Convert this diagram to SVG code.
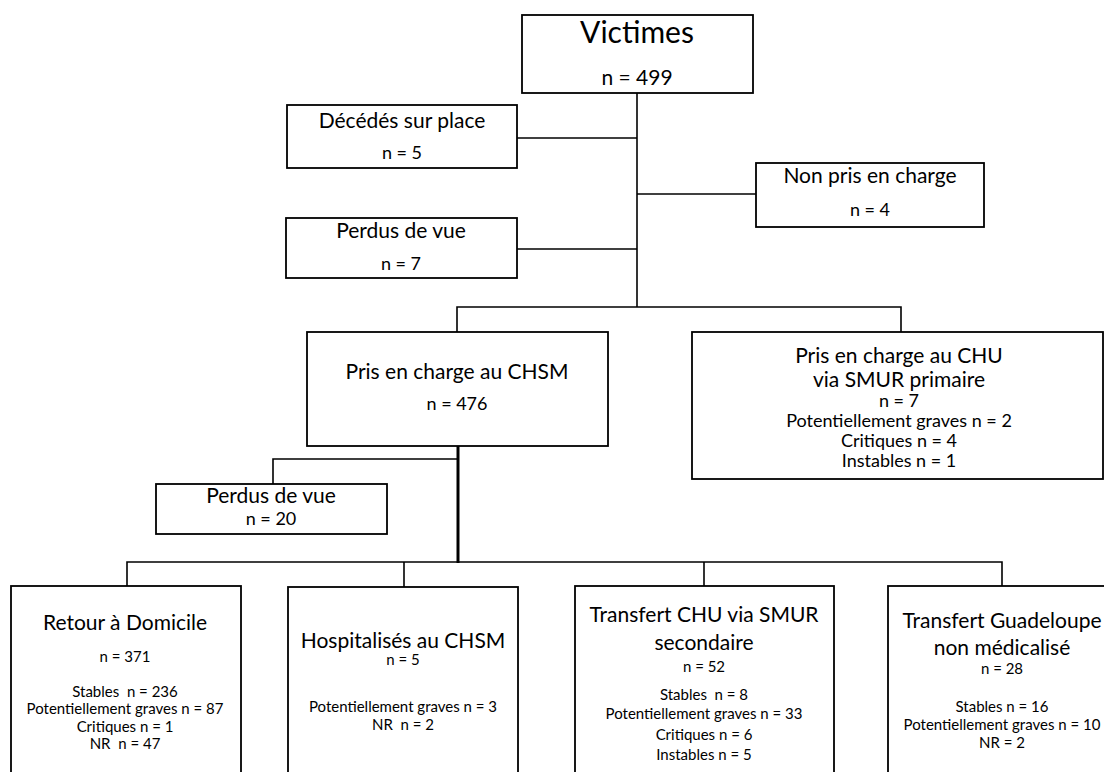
<svg xmlns="http://www.w3.org/2000/svg" width="1104" height="772" viewBox="0 0 1104 772">
<style>
rect.box{fill:#fff;stroke:#000;stroke-width:1.8}
.c{fill:none;stroke:#000;stroke-width:1.6}
.thick{stroke-width:3}
text{font-family:Lato,"Open Sans","Liberation Sans",sans-serif;fill:#000;text-anchor:middle;white-space:pre}
.big{font-size:30px}
.t{font-size:21px}
.n{font-size:18px}
.m{font-size:18px}
.s{font-size:15px}
</style>
<rect width="1104" height="772" fill="#fff"/>
<g id="connectors">
<path class="c" d="M637 93V307"/>
<path class="c" d="M517 138H637"/>
<path class="c" d="M517 249H637"/>
<path class="c" d="M637 194H756"/>
<path class="c" d="M457 332V307H901V332"/>
<path class="c thick" d="M458 446V563"/>
<path class="c" d="M273 484V459H458"/>
<path class="c" d="M127 586V562H1002V586"/>
<path class="c" d="M404 562V587"/>
<path class="c" d="M704 562V586"/>
</g>
<g id="victimes">
<rect class="box" x="522" y="15" width="231" height="78"/>
<text class="big" x="637" y="43">Victimes</text>
<text class="n" x="637" y="85" style="font-size:21px">n = 499</text>
</g>
<g id="decedes">
<rect class="box" x="287" y="105" width="230" height="63"/>
<text class="t" x="402" y="128">Décédés sur place</text>
<text class="n" x="402" y="159">n = 5</text>
</g>
<g id="perdus7">
<rect class="box" x="286" y="218" width="231" height="60"/>
<text class="t" x="401" y="238">Perdus de vue</text>
<text class="n" x="401" y="270">n = 7</text>
</g>
<g id="nonpris">
<rect class="box" x="756" y="163" width="228" height="64"/>
<text class="t" x="870" y="183">Non pris en charge</text>
<text class="n" x="870" y="216">n = 4</text>
</g>
<g id="chsm">
<rect class="box" x="307" y="332" width="301" height="114"/>
<text class="t" x="457" y="379">Pris en charge au CHSM</text>
<text class="n" x="457" y="410">n = 476</text>
</g>
<g id="chu">
<rect class="box" x="692" y="332" width="411" height="147"/>
<text class="t" x="899" y="363">Pris en charge au CHU</text>
<text class="t" x="899" y="387">via SMUR primaire</text>
<text class="m" x="899" y="407">n = 7</text>
<text class="m" x="899" y="427">Potentiellement graves n = 2</text>
<text class="m" x="899" y="447">Critiques n = 4</text>
<text class="m" x="899" y="467">Instables n = 1</text>
</g>
<g id="perdus20">
<rect class="box" x="156" y="484" width="231" height="50"/>
<text class="t" x="271" y="503">Perdus de vue</text>
<text class="n" x="271" y="525">n = 20</text>
</g>
<g id="retour">
<rect class="box" x="11" y="586" width="230" height="220"/>
<text class="t" x="125" y="630">Retour à Domicile</text>
<text class="s" x="125" y="662">n = 371</text>
<text class="s" x="125" y="697">Stables  n = 236</text>
<text class="s" x="125" y="714">Potentiellement graves n = 87</text>
<text class="s" x="125" y="732">Critiques n = 1</text>
<text class="s" x="125" y="749">NR  n = 47</text>
</g>
<g id="hospitalises">
<rect class="box" x="288" y="587" width="230" height="220"/>
<text class="t" x="403" y="648">Hospitalisés au CHSM</text>
<text class="s" x="403" y="665">n = 5</text>
<text class="s" x="403" y="712">Potentiellement graves n = 3</text>
<text class="s" x="403" y="730">NR  n = 2</text>
</g>
<g id="transfert-chu">
<rect class="box" x="575" y="586" width="259" height="220"/>
<text class="t" x="704" y="622">Transfert CHU via SMUR</text>
<text class="t" x="704" y="650">secondaire</text>
<text class="s" x="704" y="672">n = 52</text>
<text class="s" x="704" y="700">Stables  n = 8</text>
<text class="s" x="704" y="719">Potentiellement graves n = 33</text>
<text class="s" x="704" y="740">Critiques n = 6</text>
<text class="s" x="704" y="760">Instables n = 5</text>
</g>
<g id="transfert-guadeloupe">
<rect class="box" x="888" y="586" width="240" height="220"/>
<text class="t" x="1002" y="628">Transfert Guadeloupe</text>
<text class="t" x="1002" y="655">non médicalisé</text>
<text class="s" x="1002" y="674">n = 28</text>
<text class="s" x="1002" y="712">Stables n = 16</text>
<text class="s" x="1002" y="730">Potentiellement graves n = 10</text>
<text class="s" x="1002" y="748">NR = 2</text>
</g>
</svg>
